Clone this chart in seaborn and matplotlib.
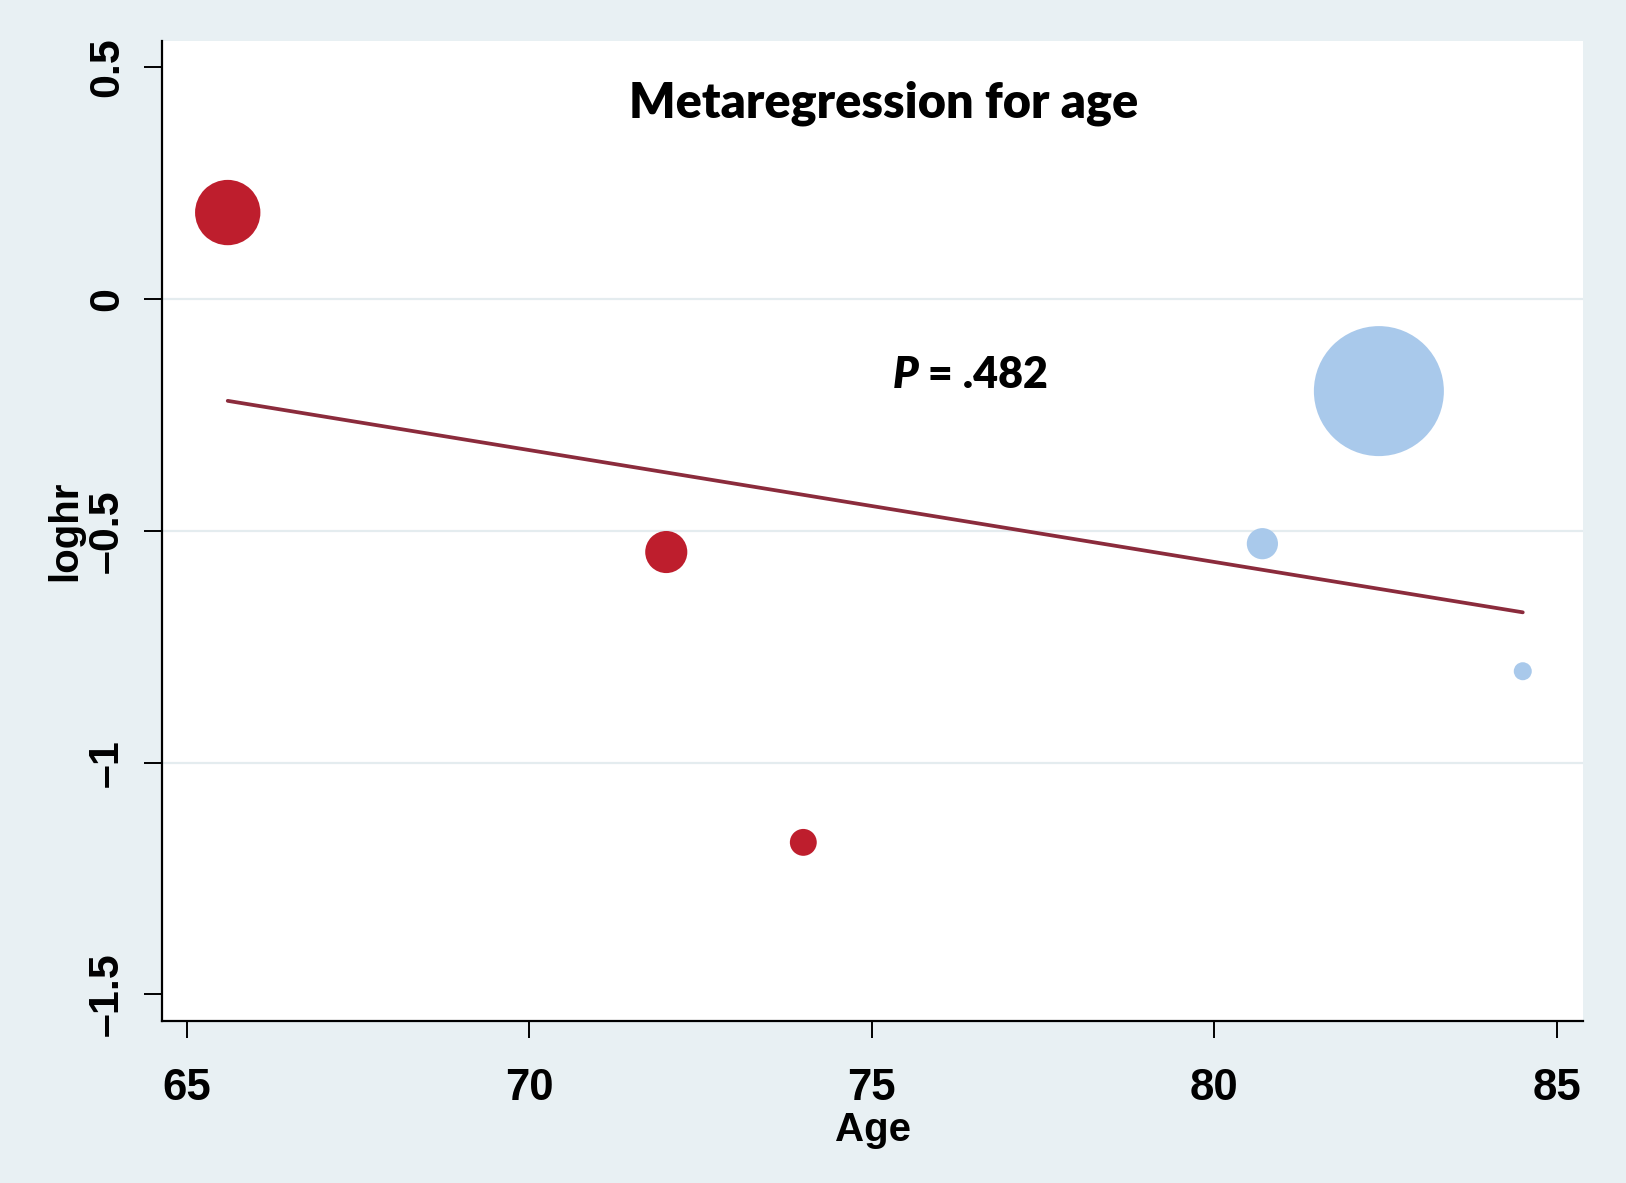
import numpy as np
import pandas as pd
import matplotlib
matplotlib.use("Agg")
import matplotlib.pyplot as plt
import seaborn as sns

# Study-level data
age = [65.6, 72.0, 74.0, 80.7, 82.4, 84.5]
loghr = [0.186, -0.546, -1.172, -0.528, -0.199, -0.803]
weight = [17.1, 7.1, 2.9, 3.9, 67.7, 1.3]   # marker area ~ study weight (%)
group = ["younger", "younger", "younger", "older", "older", "older"]

# Fitted meta-regression line
fit_age = [65.6, 84.5]
fit_loghr = [-0.220, -0.676]

df = pd.DataFrame({"age": age, "loghr": loghr, "weight": weight, "group": group})
fit = pd.DataFrame({"age": fit_age, "loghr": fit_loghr})

bg = "#E8F0F3"
sns.set_theme(style="white")
plt.rcParams["font.family"] = ["Liberation Sans", "DejaVu Sans"]
plt.rcParams["text.color"] = "black"
plt.rcParams["axes.labelcolor"] = "black"
plt.rcParams["xtick.color"] = "black"
plt.rcParams["ytick.color"] = "black"

fig = plt.figure(figsize=(16.26, 11.83), dpi=100, facecolor=bg)
ax = fig.add_axes([0.0996, 0.137, 0.874, 0.828])
ax.set_facecolor("white")

# light horizontal grid
for yv in [0, -0.5, -1]:
    ax.axhline(yv, color="#E4ECEF", lw=1.6, zorder=0)

sns.scatterplot(data=df, x="age", y="loghr", hue="group", size="weight",
                sizes=(168, 8761), palette={"younger": "#BE1E2D", "older": "#A9C9EB"},
                linewidth=0, alpha=1, legend=False, ax=ax, zorder=2)
sns.lineplot(data=fit, x="age", y="loghr", color="#8B2B3C", lw=2.7, ax=ax, zorder=3)

ax.set_xlim(64.64, 85.38)
ax.set_ylim(-1.557, 0.555)
ax.set_xticks([65, 70, 75, 80, 85])
ax.set_yticks([0.5, 0, -0.5, -1, -1.5])
ax.set_yticklabels(["0.5", "0", "\u20130.5", "\u20131", "\u20131.5"], rotation=90, va="center")

for s in ["top", "right"]:
    ax.spines[s].set_visible(False)
for s in ["left", "bottom"]:
    ax.spines[s].set_color("black")
    ax.spines[s].set_linewidth(1.6)

ax.tick_params(axis="x", length=12, width=1.4, pad=22, labelsize=31.5, direction="out", bottom=True)
ax.tick_params(axis="y", length=13, width=1.4, pad=12, labelsize=31, direction="out", left=True)
for lab in ax.get_xticklabels() + ax.get_yticklabels():
    lab.set_fontweight("bold")

ax.set_xlabel("Age", fontsize=29, fontweight="bold", labelpad=1)
ax.set_ylabel("loghr", fontsize=29, fontweight="bold", labelpad=2)

ax.text(0.508, 0.937, "Metaregression for age", transform=ax.transAxes,
        ha="center", va="center", fontsize=35, fontweight="heavy", family=["Lato", "DejaVu Sans"])

ptxt = ax.text(75.3, -0.165, "P", ha="left", va="center", fontsize=31,
               fontweight="heavy", fontstyle="italic", family=["Lato", "DejaVu Sans"])
ax.annotate(" = .482", xy=(1, 0.5), xycoords=ptxt, ha="left", va="center",
            fontsize=31, fontweight="heavy", family=["Lato", "DejaVu Sans"])

fig.savefig("out.png", dpi=100, facecolor=bg)
